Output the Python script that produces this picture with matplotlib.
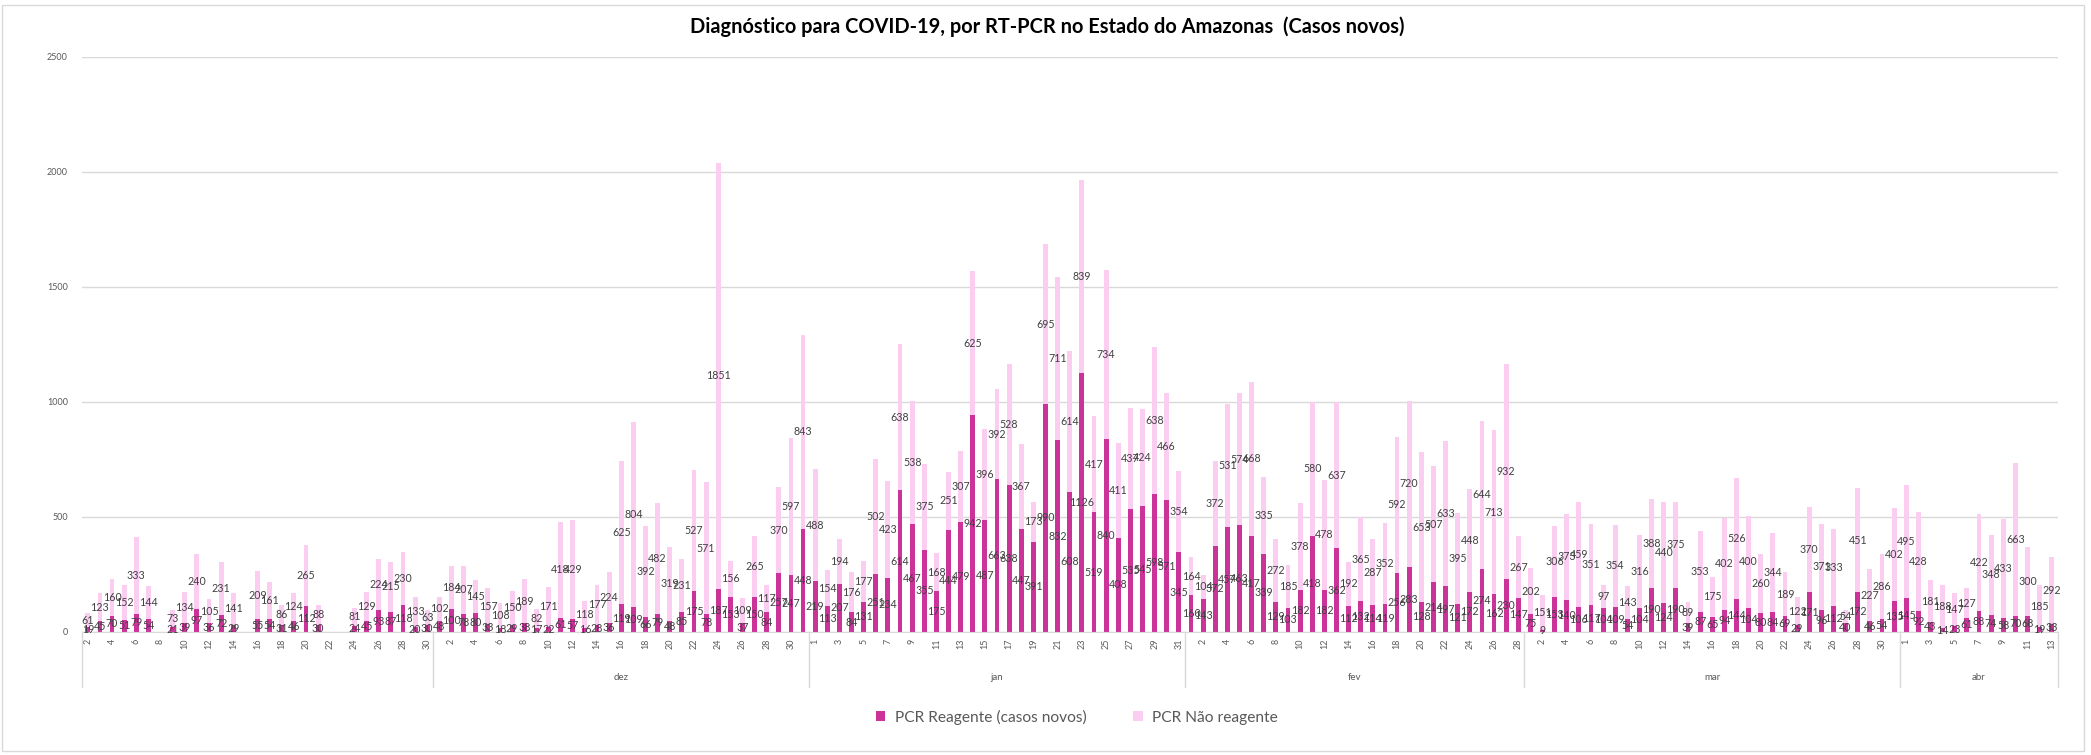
import numpy as np
import matplotlib.pyplot as plt
from matplotlib.patches import Rectangle

plt.rcParams['font.family'] = ['Lato', 'DejaVu Sans']

# primeiro bloco (sem rótulo de mês no original), dias 2..30; None = sem dado
nov_dias = list(range(2, 31))
nov_reag = [19, 45, 70, 51, 79, 54, None, 21, 39, 97, 36, 72, 29, None, 55,
            54, 31, 46, 112, 30, None, None, 24, 45, 93, 87, 118, 20, 30]
nov_nao = [61, 123, 160, 152, 333, 144, None, 73, 134, 240, 105, 231, 141, None, 209,
           161, 86, 124, 265, 88, None, None, 81, 129, 224, 215, 230, 133, 63]

dez_dias = list(range(1, 32))
dez_reag = [48, 100, 78, 80, 33, 18, 29, 38, 17, 22, 61, 57, 16, 28, 36, 119,
            109, 66, 79, 48, 85, 175, 78, 187, 153, 37, 150, 84, 257, 247, 448]
dez_nao = [102, 184, 207, 145, 157, 108, 150, 189, 82, 171, 418, 429, 118, 177, 224, 625,
           804, 392, 482, 319, 231, 527, 571, 1851, 156, 109, 265, 117, 370, 597, 843]

jan_dias = list(range(1, 32))
jan_reag = [219, 113, 207, 84, 131, 251, 234, 614, 467, 355, 175, 444, 479, 942, 487, 663,
            638, 447, 391, 990, 832, 608, 1126, 519, 840, 408, 535, 545, 598, 571, 345]
jan_nao = [488, 154, 194, 176, 177, 502, 423, 638, 538, 375, 168, 251, 307, 625, 396, 392,
           528, 367, 173, 695, 711, 614, 839, 417, 734, 411, 437, 424, 638, 466, 354]

fev_dias = list(range(1, 29))
fev_reag = [160, 143, 372, 457, 463, 417, 339, 129, 103, 182, 418, 182, 362, 112,
            132, 114, 119, 256, 283, 128, 214, 197, 121, 172, 274, 162, 230, 147]
fev_nao = [164, 104, 372, 531, 574, 668, 335, 272, 185, 378, 580, 478, 637, 192,
           365, 287, 352, 592, 720, 653, 507, 633, 395, 448, 644, 713, 932, 267]

mar_dias = list(range(1, 32))
mar_reag = [75, 9, 153, 140, 106, 117, 104, 109, 54, 104, 190, 124, 190, 39, 87, 65,
            94, 144, 104, 80, 84, 69, 29, 171, 96, 112, 40, 172, 46, 54, 135]
mar_nao = [202, 151, 306, 373, 459, 351, 97, 354, 143, 316, 388, 440, 375, 89, 353, 175,
           402, 526, 400, 260, 344, 189, 122, 370, 371, 333, 54, 451, 227, 286, 402]

abr_dias = list(range(1, 14))
abr_reag = [145, 92, 43, 14, 23, 61, 88, 74, 58, 70, 68, 19, 33]
abr_nao = [495, 428, 181, 188, 147, 127, 422, 348, 433, 663, 300, 185, 292]

meses = ['', 'dez', 'jan', 'fev', 'mar', 'abr']
blocos_dias = [nov_dias, dez_dias, jan_dias, fev_dias, mar_dias, abr_dias]
blocos_reag = [nov_reag, dez_reag, jan_reag, fev_reag, mar_reag, abr_reag]
blocos_nao = [nov_nao, dez_nao, jan_nao, fev_nao, mar_nao, abr_nao]

dias = sum(blocos_dias, [])
reag = np.array([np.nan if v is None else v for v in sum(blocos_reag, [])], dtype=float)
nao = np.array([np.nan if v is None else v for v in sum(blocos_nao, [])], dtype=float)

COR_R = '#CC3399'
COR_N = '#FBCDF1'
CINZA = '#D9D9D9'

fig = plt.figure(figsize=(20.91, 7.55), dpi=100)
ax = fig.add_axes([0.0391, 0.1633, 0.9450, 0.7616])

x = np.arange(len(dias))
ax.bar(x, reag, width=0.4, color=COR_R, label='PCR Reagente (casos novos)', zorder=2)
ax.bar(x, nao, width=0.4, bottom=reag, color=COR_N, label='PCR Não reagente', zorder=2)

for xi, r, n in zip(x, reag, nao):
    if np.isnan(r):
        continue
    ax.text(xi, r / 2, str(int(r)), ha='center', va='center', fontsize=7.7, color='#404040', zorder=3)
    ax.text(xi, r + n / 2, str(int(n)), ha='center', va='center', fontsize=7.7, color='#404040', zorder=3)

ax.set_xlim(-0.5, len(dias) - 0.5)
ax.set_ylim(0, 2500)
ax.set_yticks(range(0, 2501, 500))
ax.yaxis.grid(True, color=CINZA, lw=1, zorder=0)
ax.set_axisbelow(True)
for s in ['top', 'right', 'left']:
    ax.spines[s].set_visible(False)
ax.spines['bottom'].set_color(CINZA)
ax.tick_params(axis='y', length=0, pad=10, labelsize=6.5, labelcolor='#595959')

ax.set_xticks(x)
ax.set_xticklabels([str(d) if i % 2 == 0 else '' for i, d in enumerate(dias)],
                   rotation=90, fontsize=6.5, color='#595959')
ax.tick_params(axis='x', length=0, pad=5)

# separadores e rótulos dos meses
trans = ax.get_xaxis_transform()
inicio = -0.5
for mes, bd in zip(meses, blocos_dias):
    fim = inicio + len(bd)
    ax.plot([inicio, inicio], [0, -0.096], color=CINZA, lw=1, transform=trans, clip_on=False)
    ax.text((inicio + fim) / 2, -0.079, mes, ha='center', va='center', fontsize=7,
            color='#595959', transform=trans)
    inicio = fim
ax.plot([inicio, inicio], [0, -0.096], color=CINZA, lw=1, transform=trans, clip_on=False)

fig.text(0.501, 1 - 27 / 755, 'Diagnóstico para COVID-19, por RT-PCR no Estado do Amazonas  (Casos novos)',
         ha='center', va='center', fontsize=14.4, fontweight='bold', color='#000000')

fig.legend(loc='center', bbox_to_anchor=(0.515, 1 - 717 / 755), ncol=2, frameon=False,
           fontsize=11.2, handlelength=0.6, handleheight=0.6, handletextpad=0.6,
           columnspacing=3.0, labelcolor='#595959')

fig.patches.append(Rectangle((2 / 2091, 4 / 755), 2082 / 2091, 746 / 755, transform=fig.transFigure,
                             fill=False, edgecolor=CINZA, lw=1))

fig.savefig('out.png', dpi=100)
